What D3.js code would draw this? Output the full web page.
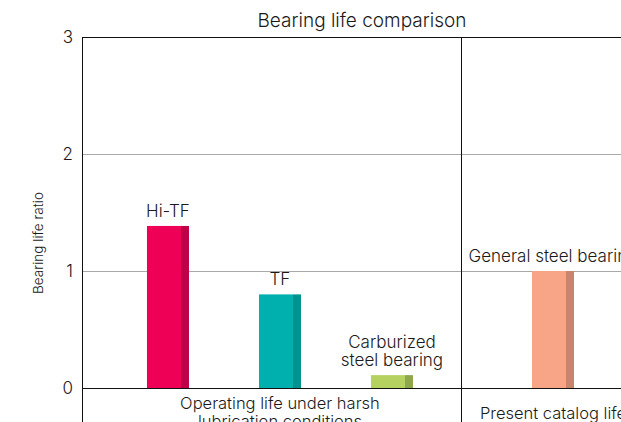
<!DOCTYPE html>
<html><head><meta charset="utf-8">
<script src="https://cdn.jsdelivr.net/npm/d3@7"></script>
<style>body{margin:0;background:#fff;} svg{display:block;} text{font-family:Inter,"Liberation Sans",Arial,sans-serif;font-weight:300;fill:#1a1a1a;}</style>
</head><body>
<svg id="c" width="621" height="422"></svg>
<script>
const groups1 = ["Hi-TF", "TF", "Carburized"];
const values1 = [1.385, 0.8, 0.11];
const barLabels1 = [["Hi-TF"], ["TF"], ["Carburized", "steel bearing"]];
const groups2 = ["General"];
const values2 = [1.0];
const barLabels2 = [["General steel bearing"]];
const mainColors = ["#EE0057", "#00B0AE", "#B5D160", "#F7A586"];
const sideColors = ["#BE0049", "#00938F", "#8FA74B", "#C8846D"];
const groupLabels = [["Operating life under harsh", "lubrication conditions"], ["Present catalog life"]];
const yTicks = [0, 1, 2, 3];

(function () {
const svg = d3.select("#c");
const plotLeft = 82, plotTop = 37, zeroY = 388, plotBottom = 422, divX = 461, rightX = 645;
const y = d3.scaleLinear().domain([0, 3]).range([zeroY, plotTop]);
const x1 = d3.scaleBand().domain(groups1).range([plotLeft, divX]).paddingInner(0.625).paddingOuter(0.5045).align(0.575);
const x2 = d3.scaleBand().domain(groups2).range([divX, rightX]).paddingInner(0).paddingOuter(1.69).align(0.5);

// gridlines
svg.selectAll("line.grid").data(yTicks.filter(t => t === 1 || t === 2)).enter().append("line")
  .attr("x1", plotLeft).attr("x2", 621).attr("y1", d => y(d)).attr("y2", d => y(d))
  .attr("stroke", "#a8a8a8").attr("stroke-width", 1).attr("shape-rendering", "crispEdges");

// bars
const bars = groups1.map((g, i) => ({x: x1(g), w: x1.bandwidth(), v: values1[i], lab: barLabels1[i], ci: i}))
  .concat(groups2.map((g, i) => ({x: x2(g), w: x2.bandwidth(), v: values2[i], lab: barLabels2[i], ci: 3 + i})));
const sideW = 8;
bars.forEach(b => {
  svg.append("rect").attr("x", b.x).attr("y", y(b.v)).attr("width", b.w - sideW).attr("height", zeroY - y(b.v)).attr("fill", mainColors[b.ci]);
  svg.append("rect").attr("x", b.x + b.w - sideW).attr("y", y(b.v)).attr("width", sideW).attr("height", zeroY - y(b.v)).attr("fill", sideColors[b.ci]);
  const cx = b.x + b.w / 2;
  const n = b.lab.length;
  b.lab.forEach((t, j) => {
    svg.append("text").attr("x", cx).attr("y", y(b.v) - 9 - (n - 1 - j) * 18)
      .attr("text-anchor", "middle").attr("font-size", 17).text(t);
  });
});

// frame lines
const frame = (a, b, c, d) => svg.append("line").attr("x1", a).attr("x2", b).attr("y1", c).attr("y2", d).attr("stroke", "#111").attr("shape-rendering", "crispEdges");
frame(plotLeft, 621, plotTop, plotTop);
frame(plotLeft, 621, zeroY, zeroY);
frame(plotLeft, plotLeft, plotTop, plotBottom);
frame(divX, divX, plotTop, plotBottom);

// y axis tick labels
svg.selectAll("text.yt").data(yTicks).enter().append("text")
  .attr("x", 73).attr("y", d => y(d) + 6).attr("text-anchor", "end").attr("font-size", 17).text(d => d);

// y title
svg.append("text").attr("transform", "translate(43,243) rotate(-90)").attr("text-anchor", "middle").attr("font-size", 13.5).text("Bearing life ratio");

// title
svg.append("text").attr("x", 362).attr("y", 27).attr("text-anchor", "middle").attr("font-size", 19).text("Bearing life comparison");

// group labels
const g1c = (x1(groups1[0]) + x1(groups1[2]) + x1.bandwidth()) / 2;
const g2c = x2(groups2[0]) + x2.bandwidth() / 2;
[g1c, g2c].forEach((cx, i) => {
  groupLabels[i].forEach((t, j) => {
    svg.append("text").attr("x", cx).attr("y", (i === 0 ? 409 : 419) + j * 18).attr("text-anchor", "middle").attr("font-size", 16.5).text(t);
  });
});
})();
</script>
</body></html>
